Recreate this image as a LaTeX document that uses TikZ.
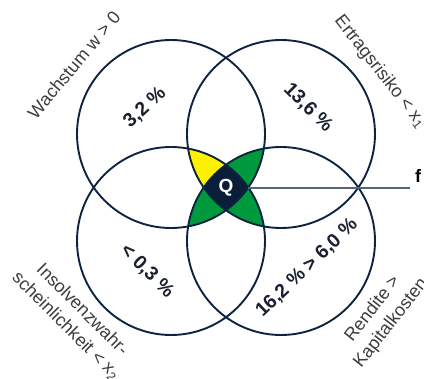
\documentclass[tikz,border=0pt]{standalone}
\usepackage{fontspec}
\setmainfont{Liberation Sans}
\definecolor{navy}{HTML}{0D2340}
\definecolor{qdark}{HTML}{0A1E3A}
\definecolor{vgreen}{HTML}{009A3E}
\definecolor{vyellow}{HTML}{FFF200}
\definecolor{labelgray}{HTML}{3C3C3C}
\definecolor{numcol}{HTML}{1A2030}
\definecolor{leadcol}{HTML}{55657A}
\tikzset{
  ring/.style={draw=navy, line width=1.9pt},
  numlabel/.style={text=numcol, font=\fontsize{19.5}{22}\selectfont\bfseries, inner sep=0pt},
  sidelabel/.style={text=labelgray, font=\fontsize{18}{23}\selectfont, align=center, inner sep=0pt},
  qlabel/.style={text=white, font=\fontsize{19}{20}\selectfont\bfseries, inner sep=0pt},
  leader/.style={draw=leadcol, line width=1.1pt},
}
\begin{document}
\begin{tikzpicture}[x=1pt,y=-1pt]
\useasboundingbox (0,0) rectangle (424,379);
\coordinate (tl) at (171,134);
\coordinate (tr) at (281,134);
\coordinate (bl) at (171,241);
\coordinate (br) at (281,241);
% triple intersections
\begin{scope}
  \clip (tl) circle[radius=94pt]; \clip (tr) circle[radius=94pt];
  \fill[vyellow] (bl) circle[radius=94pt];
\end{scope}
\begin{scope}
  \clip (tl) circle[radius=94pt]; \clip (tr) circle[radius=94pt];
  \fill[vgreen] (br) circle[radius=94pt];
\end{scope}
\begin{scope}
  \clip (tl) circle[radius=94pt]; \clip (bl) circle[radius=94pt];
  \fill[vgreen] (br) circle[radius=94pt];
\end{scope}
\begin{scope}
  \clip (tr) circle[radius=94pt]; \clip (bl) circle[radius=94pt];
  \fill[vgreen] (br) circle[radius=94pt];
\end{scope}
\begin{scope}
  \clip (tl) circle[radius=94pt]; \clip (tr) circle[radius=94pt]; \clip (bl) circle[radius=94pt];
  \fill[qdark] (br) circle[radius=94pt];
\end{scope}
% circles
\draw[ring] (tl) circle[radius=94pt];
\draw[ring] (tr) circle[radius=94pt];
\draw[ring] (bl) circle[radius=94pt];
\draw[ring] (br) circle[radius=94pt];
% centre
\node[qlabel] (q) at (226,188) {Q};
\coordinate (qe) at (248,188);
\node[anchor=base west, inner sep=0pt, font=\fontsize{18}{20}\selectfont\bfseries] (f) at (415,183) {f};
\draw[leader] (qe) -- (410,188) coordinate (le);
% numbers
\node[numlabel, rotate=43] (n1) at (145,108) {3,2 \%};
\node[numlabel, rotate=-45] (n2) at (308,108) {13,6 \%};
\node[numlabel, rotate=-45] (n3) at (147,271) {< 0,3 \%};
\node[numlabel, rotate=44] (n4) at (307,268) {16,2 \% > 6,0 \%};
% side labels
\node[sidelabel, rotate=50] (l1) at (74,65) {Wachstum w > 0};
\node[sidelabel, rotate=-52] (l2) at (380,72) {Ertragsrisiko < x\textsubscript{1}};
\node[sidelabel, rotate=-45] (l3) at (74,318) {Insolvenzwahr-\\scheinlichkeit < x\textsubscript{2}};
\node[sidelabel, rotate=52] (l4) at (382,316) {Rendite >\\Kapitalkosten};
\end{tikzpicture}
\end{document}
